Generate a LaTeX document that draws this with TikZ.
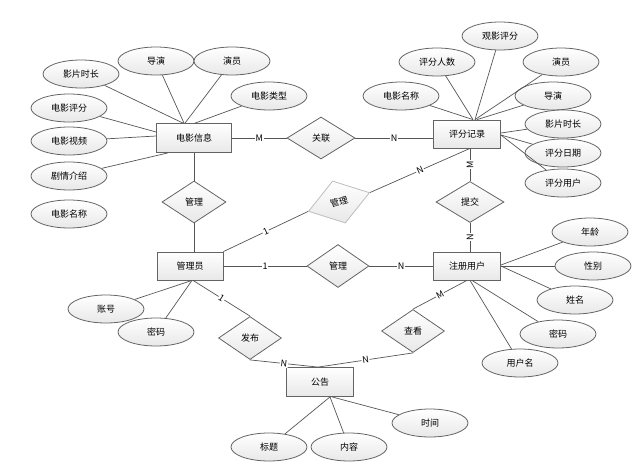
\documentclass[tikz,border=0pt]{standalone}
\usepackage{fontspec}
\setmainfont{Noto Sans CJK SC}
\usetikzlibrary{shapes.geometric,calc}
\definecolor{ln}{HTML}{555555}
\definecolor{bd}{HTML}{646464}
\definecolor{lightbd}{HTML}{BDBDBD}
\tikzset{
 base/.style={draw=bd, line width=0.8pt, top color=white, bottom color=black!9, font=\fontsize{9}{10}\selectfont, inner sep=0pt},
 ent/.style={base, rectangle, minimum width=67pt, minimum height=28pt},
 attr/.style={base, ellipse, minimum width=76pt, minimum height=28pt},
 rel/.style={base, diamond, minimum width=64pt, minimum height=42pt},
 conn/.style={draw=ln, line width=0.7pt},
 card/.style={fill=white, inner sep=0.8pt, font=\fontsize{9}{10}\selectfont},
}
\begin{document}
\begin{tikzpicture}[x=1pt,y=-1pt]
\useasboundingbox (0,0) rectangle (638,469);
% entities
\node[ent, minimum width=75pt, minimum height=29pt] (m) at (194,138) {电影信息};
\node[ent] (r) at (467,134) {评分记录};
\node[ent, minimum width=66pt] (ad) at (190,266) {管理员};
\node[ent] (u) at (467,266) {注册用户};
\node[ent, minimum height=29pt] (g) at (320,382) {公告};
% relationships
\node[rel, minimum width=68pt] (gl) at (321,138) {关联};
\node[rel] (gl1) at (194,202) {管理};
\node[rel, draw=lightbd, rotate=17, minimum width=64pt, minimum height=44pt] (gray) at (339,202) {管理};
\node[rel, minimum width=68pt, minimum height=41pt] (tj) at (470,202) {提交};
\node[rel, minimum width=62pt, minimum height=43pt] (gl2) at (338,266) {管理};
\node[rel, minimum width=63pt, minimum height=43pt] (fb) at (250,338) {发布};
\node[rel, minimum width=63pt, minimum height=43pt] (ck) at (413,331) {查看};
% attributes of 电影信息
\node[attr] (a1) at (81,74) {影片时长};
\node[attr] (a2) at (156,61) {导演};
\node[attr] (a3) at (232,61) {演员};
\node[attr] (a4) at (269,96) {电影类型};
\node[attr] (a5) at (69,108) {电影评分};
\node[attr] (a6) at (69,141) {电影视频};
\node[attr] (a7) at (69,176) {剧情介绍};
\node[attr] (a8) at (69,214) {电影名称};
% attributes of 评分记录
\node[attr] (b1) at (437,62) {评分人数};
\node[attr] (b2) at (500,36) {观影评分};
\node[attr] (b3) at (401,96) {电影名称};
\node[attr] (b4) at (561,62) {演员};
\node[attr] (b5) at (553,96) {导演};
\node[attr] (b6) at (563,124) {影片时长};
\node[attr] (b7) at (563,153) {评分日期};
\node[attr] (b8) at (563,183) {评分用户};
% attributes of 注册用户
\node[attr] (c1) at (590,232) {年龄};
\node[attr] (c2) at (593,266) {性别};
\node[attr] (c3) at (575,300) {姓名};
\node[attr] (c4) at (558,334) {密码};
\node[attr] (c5) at (520,363) {用户名};
% attributes of 管理员
\node[attr] (e1) at (106,309) {账号};
\node[attr] (e2) at (156,332) {密码};
% attributes of 公告
\node[attr] (d1) at (269,447) {标题};
\node[attr] (d2) at (349,447) {内容};
\node[attr] (d3) at (430,423) {时间};
% attribute connectors
\begin{scope}[on background layer/.style={}]
\draw[conn] (a1) -- ([xshift=-11pt]m.north);
\draw[conn] (a2) -- ([xshift=-10pt]m.north);
\draw[conn] (a3) -- ([xshift=-9pt]m.north);
\draw[conn] (a4) -- ([xshift=1pt]m.north);
\draw[conn] (a5) -- ([yshift=6pt]m.west);
\draw[conn] (a6) -- ([yshift=2pt]m.west);
\draw[conn] (a7) -- ([xshift=-26pt]m.south);
\draw[conn] (b1) -- ([xshift=6pt]r.north);
\draw[conn] (b2) -- ([xshift=8pt]r.north);
\draw[conn] (b3) -- ([xshift=6pt]r.north);
\draw[conn] (b4) -- ([xshift=8pt]r.north);
\draw[conn] (b5) -- ([xshift=10pt]r.north);
\draw[conn] (b6) -- ([yshift=1pt]r.east);
\draw[conn] (b7) -- ([yshift=-1pt]r.east);
\draw[conn] (b8) -- ([yshift=-1pt]r.east);
\draw[conn] (c1) -- ([yshift=1pt]u.east);
\draw[conn] (c2) -- (u.east);
\draw[conn] (c3) -- (u.east);
\draw[conn] (c4) -- ([xshift=5pt]u.south);
\draw[conn] (c5) -- ([xshift=3pt]u.south);
\draw[conn] (e1) -- ([xshift=2pt]ad.south);
\draw[conn] (e2) -- ([xshift=2pt]ad.south);
\draw[conn] (d1) -- ([xshift=10pt]g.south);
\draw[conn] (d2) -- ([xshift=10pt]g.south);
\draw[conn] (d3) -- ([xshift=12pt]g.south);
\end{scope}
% relationship connectors
\draw[conn] (m.east) -- node[card] {M} (gl.west);
\draw[conn] (gl.east) -- node[card] {N} (gl.east -| r.west);
\draw[conn] (m.south) -- (gl1.north);
\draw[conn] (gl1.south) -- (gl1.south |- ad.north);
\draw[conn] (ad.north east) -- node[card, sloped] {1} (gray.west);
\draw[conn] (gray.east) -- node[card, sloped] {N} ([xshift=3pt]r.south);
\draw[conn] (ad.east) -- node[card] {1} (gl2.west);
\draw[conn] (gl2.east) -- node[card] {N} (u.west);
\draw[conn] ([xshift=3pt]r.south) -- node[card, rotate=90] {M} (tj.north);
\draw[conn] (tj.south) -- node[card, rotate=90] {N} (tj.south |- u.north);
\draw[conn] (ck.north) -- node[card, sloped] {M} (u.south);
\draw[conn] (ck.south) -- node[card, sloped] {N} ([xshift=-2pt]g.north);
\draw[conn] ([xshift=3pt]ad.south) -- node[card, sloped] {1} (fb.north);
\draw[conn] (fb.south) -- node[card, sloped] {N} ([xshift=-2pt]g.north);
\end{tikzpicture}
\end{document}
